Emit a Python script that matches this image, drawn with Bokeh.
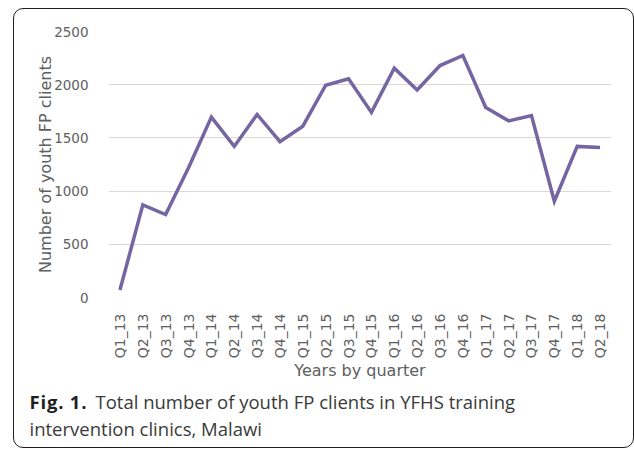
import math
from bokeh.plotting import figure
from bokeh.layouts import column
from bokeh.models import SingleIntervalTicker, Div
from bokeh.embed import file_html
from bokeh.resources import INLINE

quarters = ["Q1_13", "Q2_13", "Q3_13", "Q4_13", "Q1_14", "Q2_14", "Q3_14", "Q4_14",
            "Q1_15", "Q2_15", "Q3_15", "Q4_15", "Q1_16", "Q2_16", "Q3_16", "Q4_16",
            "Q1_17", "Q2_17", "Q3_17", "Q4_17", "Q1_18", "Q2_18"]
clients = [70, 870, 780, 1220, 1695, 1420, 1720, 1465,
           1610, 1995, 2055, 1740, 2155, 1950, 2180, 2275,
           1785, 1660, 1710, 905, 1420, 1410]
y_ticks_interval = 500
y_max = 2500
caption_bold = "Fig. 1."
caption_line1 = "Total number of youth FP clients in YFHS training"
caption_line2 = "intervention clinics, Malawi"

W = 619
p = figure(x_range=quarters, y_range=(0, y_max), width=W, height=376,
           output_backend="svg", toolbar_location=None,
           min_border_left=94, min_border_right=22, min_border_top=22, min_border_bottom=88)
p.outline_line_color = None
p.background_fill_color = "white"
p.border_fill_color = None

p.line(quarters, clients, line_color="#7466A3", line_width=3.5, line_join="miter")

tick_font = "DejaVu Sans"
lab_color = "#606060"

p.xgrid.grid_line_color = None
p.ygrid.grid_line_color = "#d9d9d9"
p.ygrid.grid_line_width = 1.2

p.yaxis.ticker = SingleIntervalTicker(interval=y_ticks_interval)
p.yaxis.axis_line_color = None
p.yaxis.major_tick_line_color = None
p.yaxis.minor_tick_line_color = None
p.yaxis.major_label_standoff = 14
p.yaxis.major_label_text_font = tick_font
p.yaxis.major_label_text_font_size = "13.5px"
p.yaxis.major_label_text_color = lab_color
p.yaxis.axis_label = "Number of youth FP clients"
p.yaxis.axis_label_text_font = tick_font
p.yaxis.axis_label_text_font_size = "16px"
p.yaxis.axis_label_text_font_style = "normal"
p.yaxis.axis_label_text_color = lab_color
p.yaxis.axis_label_standoff = -4

p.xaxis.axis_line_color = None
p.xaxis.major_tick_line_color = None
p.xaxis.minor_tick_line_color = None
p.xaxis.major_label_orientation = math.pi / 2
p.xaxis.major_label_standoff = 10
p.xaxis.major_label_text_font = tick_font
p.xaxis.major_label_text_font_size = "14px"
p.xaxis.major_label_text_color = lab_color
p.xaxis.axis_label = "Years by quarter"
p.xaxis.axis_label_text_font = tick_font
p.xaxis.axis_label_text_font_size = "16px"
p.xaxis.axis_label_text_font_style = "normal"
p.xaxis.axis_label_text_color = lab_color
p.xaxis.axis_label_standoff = 0

cap_html = (
    '<div style="padding:4px 0 0 15.5px; font-family:\'Open Sans\'; font-size:18.5px; '
    'line-height:26.7px; color:#3a3a3a; white-space:nowrap;">'
    '<span style="display:inline-block; width:66px; font-weight:bold; letter-spacing:0.8px; color:#1f1f1f;">'
    + caption_bold + '</span>'
    + caption_line1 + '<br>' + caption_line2
    + '</div>'
)
cap = Div(text=cap_html, width=W, height=62, margin=0)

layout = column(p, cap, spacing=0,
                styles={"margin-left": "13px", "margin-top": "8px",
                        "border": "1.5px solid #1f1f1f", "border-radius": "10px",
                        "background": "white"})

open("out.html", "w").write(file_html(layout, INLINE))
